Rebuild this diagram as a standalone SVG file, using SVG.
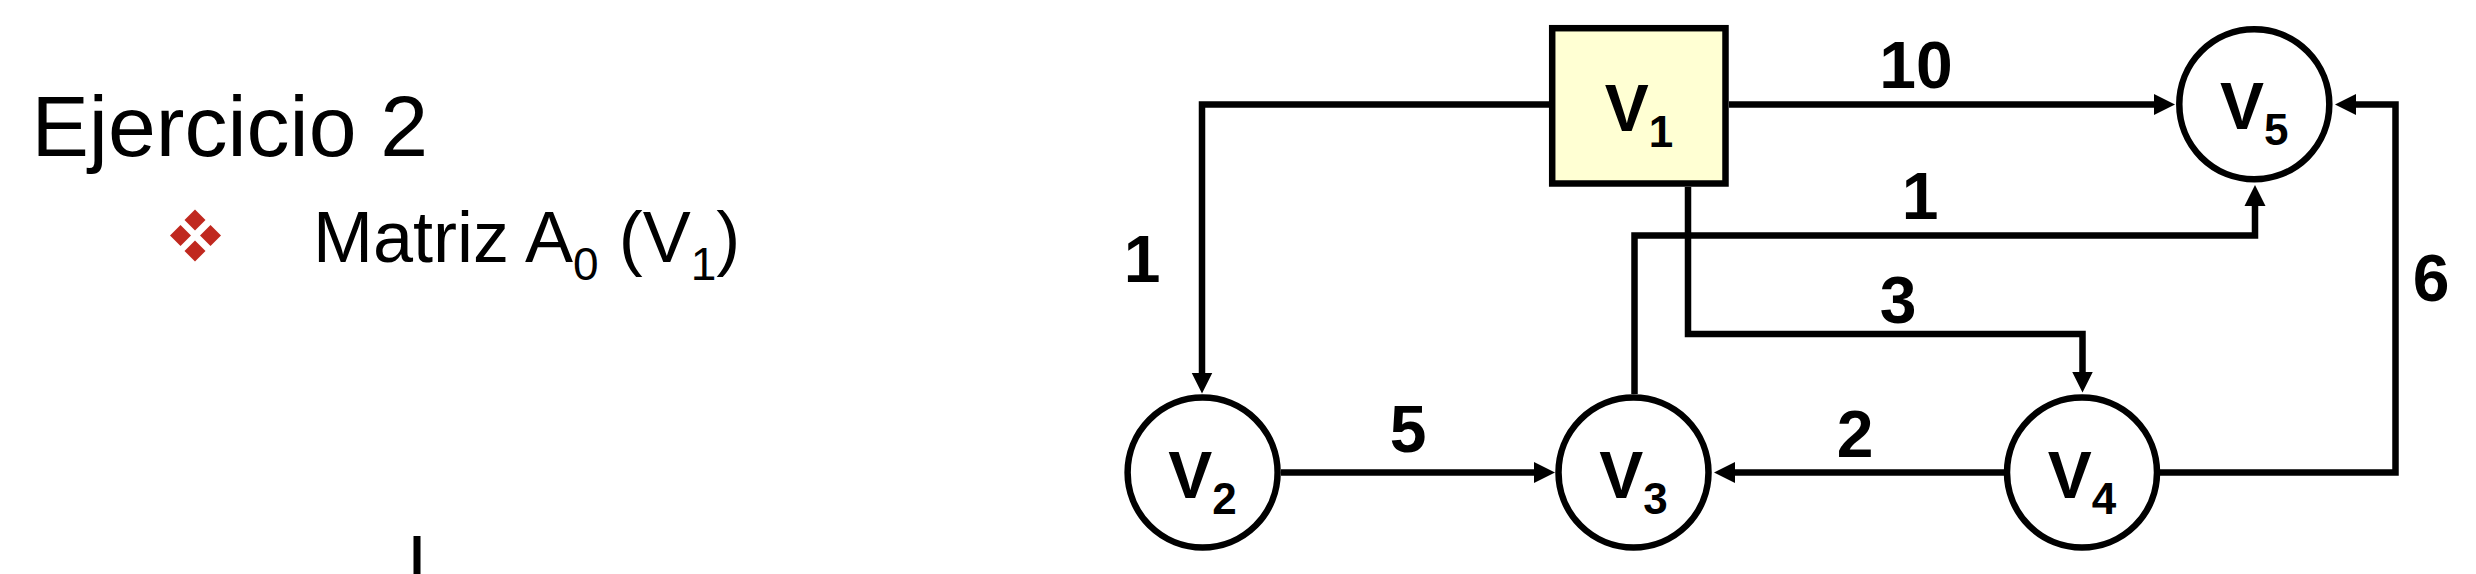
<svg xmlns="http://www.w3.org/2000/svg" width="2476" height="574" viewBox="0 0 2476 574">
<style>
.edge{fill:none;stroke:#000;stroke-width:6.5;stroke-linejoin:miter;stroke-linecap:butt}
.node{fill:#fff;stroke:#000;stroke-width:6.5}
.lbl{font-family:"Liberation Sans",Arial,sans-serif;font-weight:bold;font-size:66px;fill:#000;text-anchor:middle}
.sub{font-size:44px}
.plain{font-family:"Liberation Sans",Arial,sans-serif;fill:#000}
.dia{fill:#C0281F}
</style>
<defs>
<marker id="arr" markerUnits="userSpaceOnUse" markerWidth="22" markerHeight="22" refX="11" refY="10.5" orient="auto" viewBox="0 0 22 21">
<path d="M0,0 L21,10.5 L0,21 Z" fill="#000"/>
</marker>
</defs>
<rect x="0" y="0" width="2476" height="574" fill="#fff"/>
<g id="title">
<text class="plain" x="31.5" y="156" font-size="86">Ejercicio 2</text>
</g>
<g id="bullet">
<polygon class="dia" points="195,209.5 205.5,220 195,230.5 184.5,220"/>
<polygon class="dia" points="180.5,225 191,235.5 180.5,246 170,235.5"/>
<polygon class="dia" points="210.5,225 221,235.5 210.5,246 200,235.5"/>
<polygon class="dia" points="195,240.5 205.5,251 195,261.5 184.5,251"/>
<text class="plain" x="313" y="262" font-size="72">Matriz A<tspan font-size="46" dy="17.5">0</tspan><tspan dy="-17.5"> (V</tspan><tspan font-size="46" dy="17.5">1</tspan><tspan dy="-17.5">)</tspan></text>
</g>
<g id="cursor">
<rect x="413.5" y="536" width="7" height="38" fill="#000"/>
</g>
<g id="connectors">
<path class="edge" d="M1549,104.5 H1202 V383.5" marker-end="url(#arr)"/>
<path class="edge" d="M1281,472.5 H1545" marker-end="url(#arr)"/>
<path class="edge" d="M2004,472.5 H1724" marker-end="url(#arr)"/>
<path class="edge" d="M1729,104.5 H2165" marker-end="url(#arr)"/>
<path class="edge" d="M1634.5,394 V235.5 H2255 V195" marker-end="url(#arr)"/>
<path class="edge" d="M1688,187 V334 H2082.5 V382.5" marker-end="url(#arr)"/>
<path class="edge" d="M2160,472.5 H2395.5 V104.5 H2345" marker-end="url(#arr)"/>
<text class="lbl" x="1916" y="88">10</text>
<text class="lbl" x="1920" y="219">1</text>
<text class="lbl" x="1898" y="323">3</text>
<text class="lbl" x="1855" y="457">2</text>
<text class="lbl" x="1408" y="452">5</text>
<text class="lbl" x="1142" y="282">1</text>
<text class="lbl" x="2431" y="301">6</text>
</g>
<g id="V1">
<rect x="1552.2" y="28.2" width="173.3" height="155.3" fill="#FFFFD3" stroke="#000" stroke-width="6.5"/>
<text class="lbl" x="1639" y="131">V<tspan class="sub" dy="16">1</tspan></text>
</g>
<g id="V2">
<circle class="node" cx="1202.6" cy="472.5" r="75"/>
<text class="lbl" x="1202.6" y="497.5">V<tspan class="sub" dy="16">2</tspan></text>
</g>
<g id="V3">
<circle class="node" cx="1633.5" cy="472.5" r="75"/>
<text class="lbl" x="1633.5" y="497.5">V<tspan class="sub" dy="16">3</tspan></text>
</g>
<g id="V4">
<circle class="node" cx="2082" cy="472.5" r="75"/>
<text class="lbl" x="2082" y="497.5">V<tspan class="sub" dy="16">4</tspan></text>
</g>
<g id="V5">
<circle class="node" cx="2254.3" cy="104.3" r="75"/>
<text class="lbl" x="2254.3" y="129.3">V<tspan class="sub" dy="16">5</tspan></text>
</g>
</svg>
